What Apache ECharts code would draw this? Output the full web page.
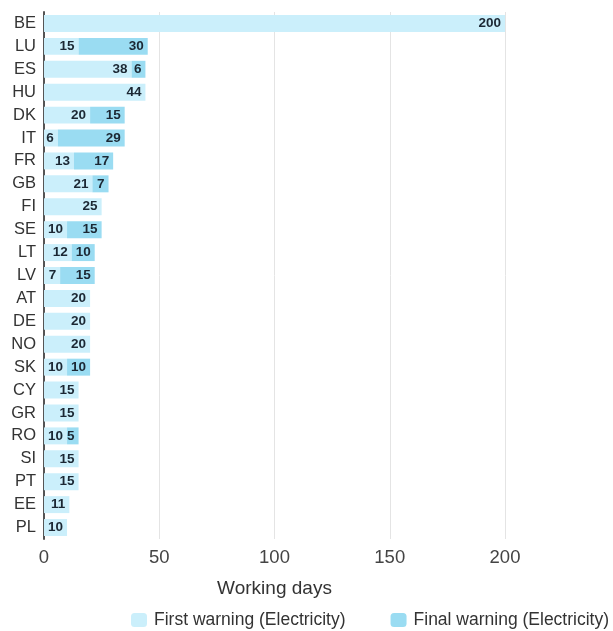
<!DOCTYPE html>
<html><head><meta charset="utf-8">
<script src="https://cdn.jsdelivr.net/npm/echarts@6/dist/echarts.min.js"></script>
<style>html,body{margin:0;padding:0;background:#fff}#c{width:613px;height:631px}</style>
</head><body><div id="c"></div>
<script>
const categories = ["BE","LU","ES","HU","DK","IT","FR","GB","FI","SE","LT","LV","AT","DE","NO","SK","CY","GR","RO","SI","PT","EE","PL"];
const firstWarning = [200,15,38,44,20,6,13,21,25,10,12,7,20,20,20,10,15,15,10,15,15,11,10];
const finalWarning = [0,30,6,0,15,29,17,7,0,15,10,15,0,0,0,10,0,0,5,0,0,0,0];
const xTicks = [0,50,100,150,200];

const FONT = 'Liberation Sans, Arial, sans-serif';
const chart = echarts.init(document.getElementById('c'));
const lbl = {
  show: true, position: 'insideRight', distance: 4,
  fontFamily: FONT, fontWeight: 'bold', fontSize: 13.5, color: '#1b2733',
  formatter: p => p.value ? String(p.value) : ''
};
chart.setOption({
  animation: false,
  grid: { left: 44, right: 108, top: 12, height: 527, containLabel: false },
  legend: {
    top: 611, left: 131, padding: 0, itemWidth: 16, itemHeight: 14, itemGap: 45,
    textStyle: { fontFamily: FONT, fontSize: 17.5, color: '#333', padding: [0, 0, 0, 2] },
    data: ['First warning (Electricity)', 'Final warning (Electricity)']
  },
  xAxis: {
    type: 'value', min: xTicks[0], max: xTicks[xTicks.length-1], interval: 50,
    name: 'Working days', nameLocation: 'middle', nameGap: 40,
    nameTextStyle: { fontFamily: FONT, fontSize: 19, color: '#333' },
    axisLine: { show: false }, axisTick: { show: false },
    axisLabel: { fontFamily: FONT, fontSize: 18.5, color: '#444', margin: 9 },
    splitLine: { show: true, lineStyle: { color: '#e4e4e4', width: 1 } }
  },
  yAxis: {
    type: 'category', data: categories, inverse: true,
    axisLine: { show: true, lineStyle: { color: '#555', width: 2 } }, axisTick: { show: false },
    axisLabel: { fontFamily: FONT, fontSize: 16.5, color: '#333', margin: 8 }
  },
  series: [
    { name: 'First warning (Electricity)', type: 'bar', stack: 'w', data: firstWarning,
      barCategoryGap: '26%', itemStyle: { color: '#cbeffb' }, label: lbl },
    { name: 'Final warning (Electricity)', type: 'bar', stack: 'w', data: finalWarning,
      barCategoryGap: '26%', itemStyle: { color: '#9adcf2' }, label: lbl }
  ]
});
</script></body></html>
